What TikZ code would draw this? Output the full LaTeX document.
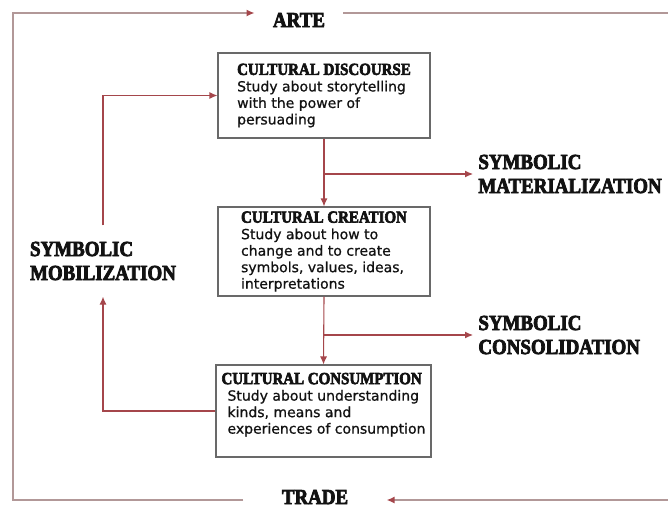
\documentclass[tikz,border=0pt]{standalone}
\usepackage{fontspec}
\setmainfont{DejaVu Sans}[FakeBold=0.8]
\newfontfamily\stencilfont{Liberation Serif Bold}[FakeStretch=0.88, FakeBold=3.5]
\usepackage{xcolor}
\usetikzlibrary{arrows.meta,positioning,calc}

\definecolor{flowred}{RGB}{165,70,75}
\definecolor{framegray}{RGB}{178,152,152}
\definecolor{boxgray}{RGB}{105,105,105}
\definecolor{inkblack}{RGB}{18,18,18}

\newcommand{\stagetitle}[1]{{\stencilfont\fontsize{17}{19}\selectfont #1}}

\begin{document}
\begin{tikzpicture}[x=1pt, y=-1pt, >={Latex[length=8pt,width=7pt]}, thick,
    stage/.style={draw=boxgray, line width=1.1pt, align=left, text=inkblack,
        font=\fontsize{14}{16.5}\selectfont, minimum width=212pt},
    biglabel/.style={font=\stencilfont\fontsize{21.5}{24}\selectfont,
        align=left, text=inkblack},
    flow/.style={draw=flowred, line width=1.1pt, ->},
    frame/.style={draw=framegray, line width=1.6pt}]
    \useasboundingbox (0,0) rectangle (668,509);

    % the three stages
    \node[stage, minimum height=85pt] (disc) at (324,95.5)
        {\stagetitle{CULTURAL DISCOURSE}\\ Study about storytelling\\ with the power of\\ persuading};
    \node[stage, minimum height=89pt] (crea) at (324,251.5)
        {\stagetitle{CULTURAL CREATION}\\ Study about how to\\ change and to create\\ symbols, values, ideas,\\ interpretations};
    \node[stage, minimum height=92pt, minimum width=215pt] (consum) at (323.5,411)
        {\stagetitle{CULTURAL CONSUMPTION}\\ \hspace*{6pt}Study about understanding\\ \hspace*{6pt}kinds, means and\\ \hspace*{6pt}experiences of consumption\\[-1pt]\mbox{}};

    % labels
    \node[biglabel, anchor=west, inner xsep=5pt] (mat) at (473,174) {SYMBOLIC\\MATERIALIZATION};
    \node[biglabel, anchor=west, inner xsep=5pt] (consol) at (473,335) {SYMBOLIC\\CONSOLIDATION};
    \node[biglabel, inner ysep=16pt] (mob) at (103,261) {SYMBOLIC\\MOBILIZATION};
    \node[biglabel, inner xsep=18pt] (arte) at (299,20) {ARTE};
    \node[biglabel, inner xsep=38pt] (trade) at (315,497) {TRADE};

    % flow between stages
    \draw[flow] (disc.south) -- (crea.north);
    \draw[flow] (crea.south) -- (consum.north);
    \coordinate (split1) at (disc.south |- mat.west);
    \coordinate (split2) at (crea.south |- consol.west);
    \draw[flow] (split1) -- (mat.west);
    \draw[flow] (split2) -- (consol.west);
    \draw[flow] (consum.west) -| (mob.south);
    \draw[flow] (mob.north) |- (disc.west);

    % outer loop
    \coordinate (tl) at (13,13);
    \coordinate (tr) at (668,13);
    \coordinate (bl) at (13,500);
    \coordinate (br) at (668,500);
    \draw[frame, -{Latex[length=8pt,width=7pt,color=flowred]}] (trade.west |- bl) -- (bl) -- (tl) -- (arte.west |- tl);
    \draw[frame] (arte.east |- tr) -- (tr);
    \draw[frame, -{Latex[length=8pt,width=7pt,color=flowred]}] (br) -- (trade.east |- br);
\end{tikzpicture}
\end{document}
